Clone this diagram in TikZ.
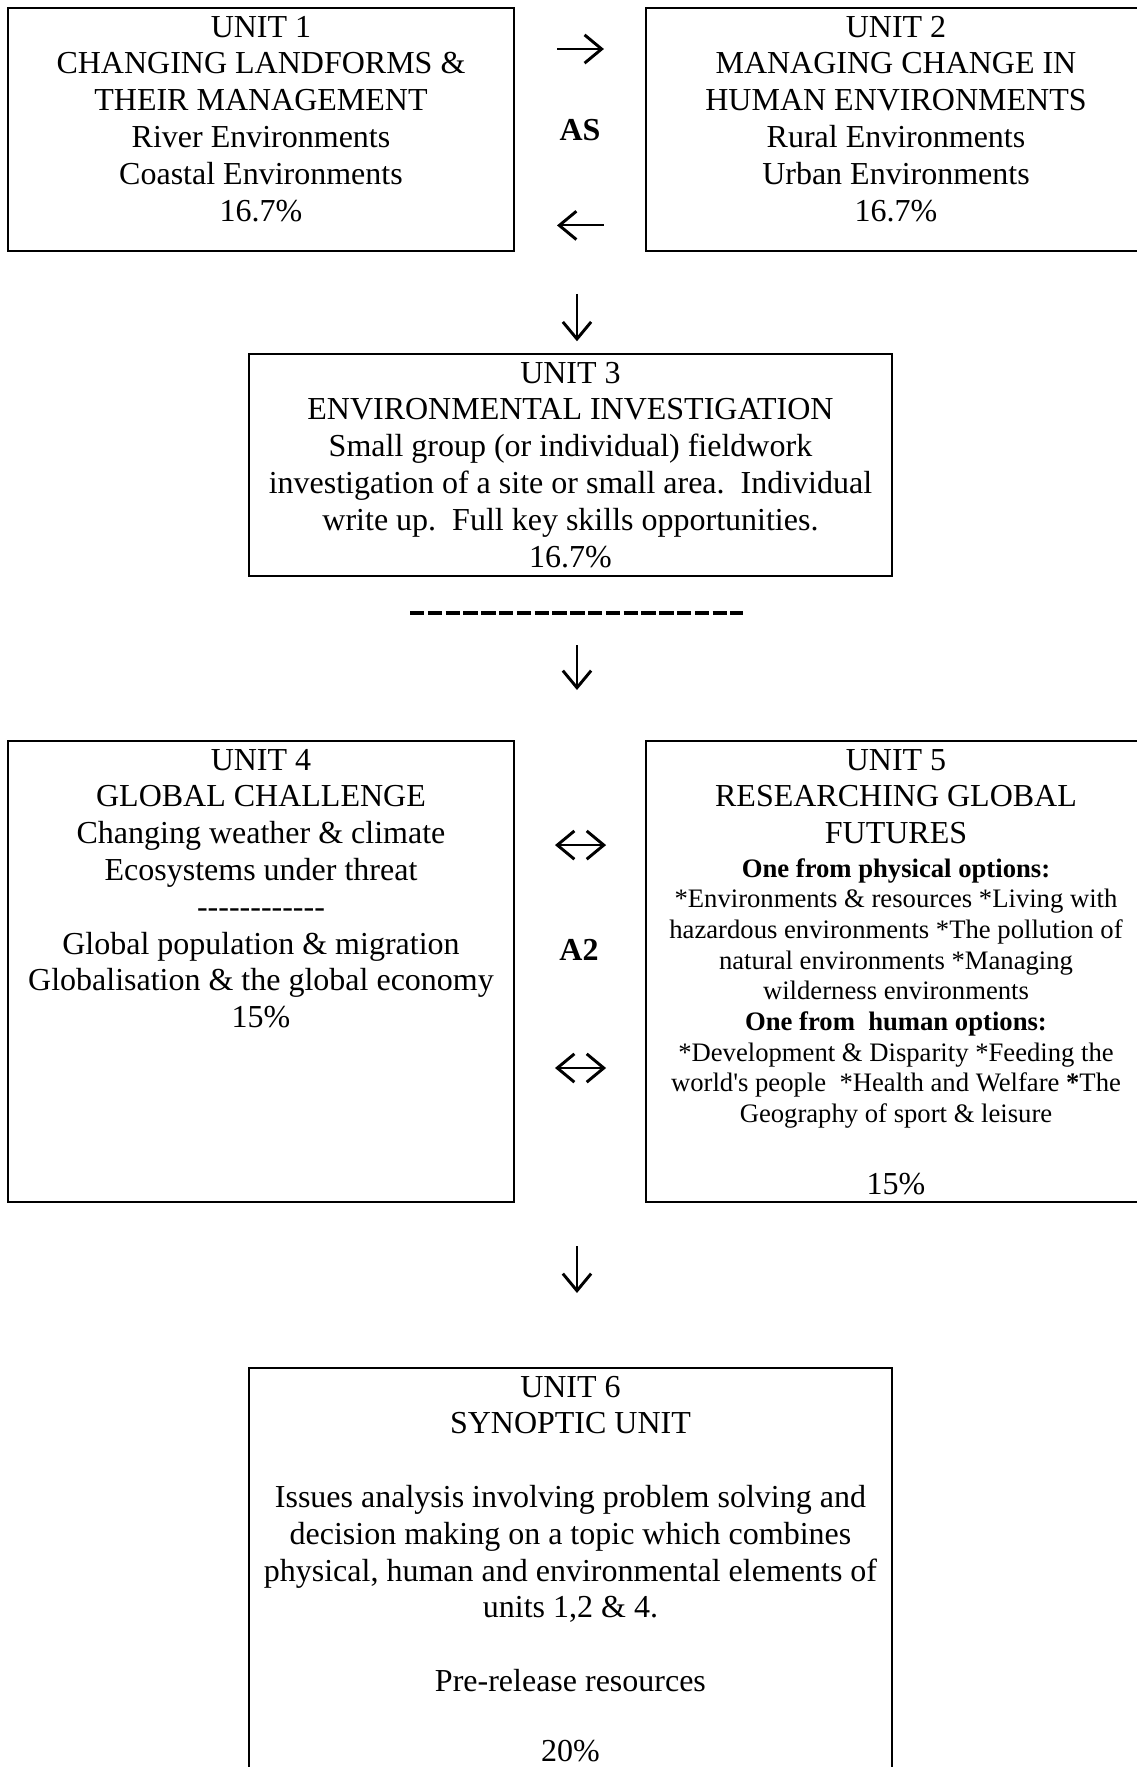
\documentclass[tikz,border=0pt]{standalone}
\usepackage{fontspec}
\setmainfont{Liberation Serif}
\usepackage{tikz}
\usetikzlibrary{arrows.meta}

\newcommand{\hyphenrow}{\mbox{-}\mbox{-}\mbox{-}\mbox{-}\mbox{-}\mbox{-}\mbox{-}\mbox{-}\mbox{-}\mbox{-}\mbox{-}\mbox{-}}

\begin{document}
\begin{tikzpicture}[
    x=0.375pt, y=-0.375pt,
    font=\fontsize{12}{13.8}\selectfont,
    glyphtip/.tip={Straight Barb[length=6.4pt, width=10.6pt, line width=1.1pt]},
    unit/.style={rectangle, draw=black, line width=0.75pt, anchor=north west, text width=183.75pt, inner xsep=3pt, inner ysep=0pt, align=flush center, text height=10.9pt, text depth=80.2pt},
    wideunit/.style={unit, text width=235.1pt},
    tallunit/.style={unit, text depth=162pt},
    lbl/.style={font=\fontsize{12}{13.8}\selectfont\bfseries, inner sep=0pt},
    arrow/.style={draw=black, line width=0.8pt, -glyphtip},
    twoway/.style={draw=black, line width=0.8pt, glyphtip-glyphtip},
    rule/.style={draw=black, line width=1.6pt, dash pattern=on 5.4pt off 1.275pt}
]
    \useasboundingbox (0,0) rectangle (1137,1767);

    % Row 1: AS units
    \node (u1) at (7,7) [unit] {UNIT 1\\CHANGING LANDFORMS \&\\THEIR MANAGEMENT\\River Environments\\Coastal Environments\\16.7\%};
    \node (u2) at (645,7) [unit, text width=181.5pt] {UNIT 2\\MANAGING CHANGE IN\\HUMAN ENVIRONMENTS\\Rural Environments\\Urban Environments\\16.7\%};
    \node (as) at (580,130) [lbl] {AS};

    % Row 2: fieldwork unit
    \node (u3) at (248,353) [wideunit, text depth=72.5pt] {UNIT 3\\ENVIRONMENTAL INVESTIGATION\\Small group (or individual) fieldwork\\investigation of a site or small area.\ \ Individual\\write up.\ \ Full key skills opportunities.\\16.7\%};

    % AS / A2 divide
    \coordinate (ruleL) at (410,613);
    \coordinate (ruleR) at (743,613);
    \draw [rule] (ruleL) -- (ruleR);

    % Row 3: A2 units
    \node (u4) at (7,740) [tallunit] {UNIT 4\\GLOBAL CHALLENGE\\Changing weather \& climate\\Ecosystems under threat\\\hyphenrow\\Global population \& migration\\Globalisation \& the global economy\\15\%};
    \node (u5) at (645,740) [tallunit, text width=181.5pt] {UNIT 5\\RESEARCHING GLOBAL\\FUTURES\par
        {\fontsize{10}{11.5}\selectfont\vspace{1.1pt}\textbf{One from physical options:}\\{}*Environments \& resources *Living with\\{}hazardous environments *The pollution of\\{}natural environments *Managing\\{}wilderness environments\\{}\textbf{One from\ \ human options:}\\{}*Development \& Disparity *Feeding the\\{}world\textquotesingle s people\ \ *Health and Welfare \textbf{*}The\\{}Geography of sport \& leisure\par}
        \vspace{13pt}15\%};
    \node (a2) at (579,950) [lbl] {A2};

    % Row 4: synoptic unit
    \node (u6) at (248,1367) [wideunit, text depth=160pt] {UNIT 6\\SYNOPTIC UNIT\\[13.8pt]Issues analysis involving problem solving and\\decision making on a topic which combines\\physical, human and environmental elements of\\units 1,2 \& 4.\\[13.8pt]Pre-release resources\\[12.3pt]20\%};

    % Flow arrows
    \draw [arrow, shorten <=15.75pt, shorten >=15.4pt] ([yshift=-15.75pt]u1.north east) -- ([yshift=-15.75pt]u2.north west);
    \draw [arrow, shorten <=15.4pt, shorten >=15.75pt] ([yshift=-81.9pt]u2.north west) -- ([yshift=-81.9pt]u1.north east);
    \draw [arrow, shorten <=15.75pt, shorten >=4.4pt] ([xshift=2.44pt]u3.north |- u1.south) -- ([xshift=2.44pt]u3.north);
    \draw [arrow, shorten <=25.5pt, shorten >=18.75pt] ([xshift=2.44pt]u3.south) -- ([xshift=2.44pt]u3.south |- u4.north);
    \draw [twoway, shorten <=15pt, shorten >=14.6pt] ([yshift=-39.4pt]u4.north east) -- ([yshift=-39.4pt]u5.north west);
    \draw [twoway, shorten <=15pt, shorten >=14.6pt] ([yshift=-123pt]u4.north east) -- ([yshift=-123pt]u5.north west);
    \draw [arrow, shorten <=16.1pt, shorten >=27.75pt] ([xshift=2.44pt]u6.north |- u4.south) -- ([xshift=2.44pt]u6.north);
\end{tikzpicture}
\end{document}
